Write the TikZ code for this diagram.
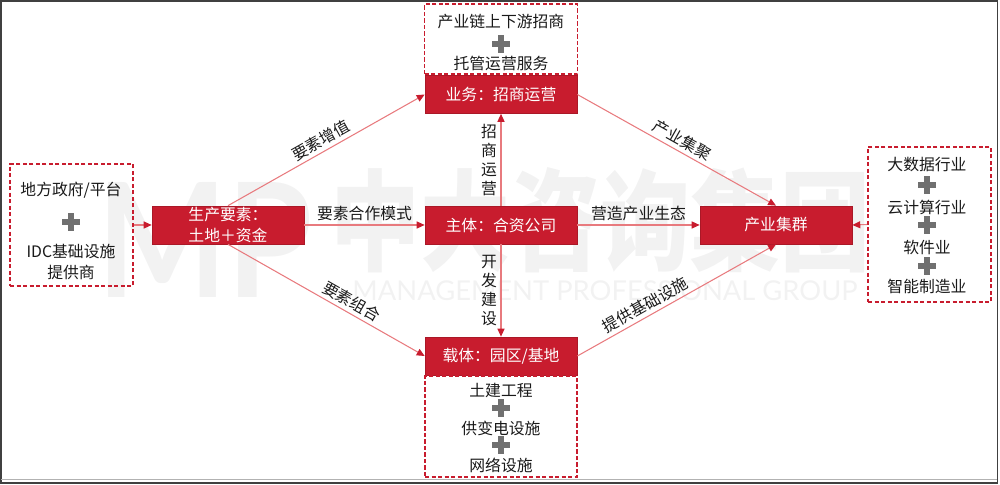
\documentclass[tikz,border=0pt]{standalone}
\usepackage{fontspec}
\usepackage{graphicx}
\setmainfont{Noto Sans CJK SC}
\newfontfamily\wmfont{Lato}
\usetikzlibrary{positioning}
\usetikzlibrary{arrows.meta}
\definecolor{mpred}{RGB}{200,28,46}
\definecolor{linered}{RGB}{232,122,126}
\definecolor{plusgray}{RGB}{112,112,112}
\definecolor{wmgray}{RGB}{242,242,242}
\tikzset{
	red node/.style={fill=mpred,draw=mpred!85!black,line width=0.4pt,text=white,minimum width=3.04cm,
		minimum height=0.76cm,inner sep=0pt,align=center,font=\fontsize{9}{11.4}\selectfont},
	dash box/.style={draw=mpred,line width=1pt,dash pattern=on 2.4pt off 1.3pt,minimum width=2.46cm,inner sep=0pt},
	item/.style={font=\fontsize{9}{11.4}\selectfont,text=black!90,inner sep=1pt,align=center},
	flow label/.style={font=\fontsize{9}{10.8}\selectfont,text=black!90,inner sep=2pt,align=center},
	plusmark/.pic={
		\fill[plusgray] (-0.18,-0.055) rectangle (0.18,0.055);
		\fill[plusgray] (-0.055,-0.175) rectangle (0.055,0.175);
	}
}

\begin{document}
\begin{tikzpicture}[>={Triangle[length=4.5pt,width=4pt,color=mpred]},
		flow/.style={->,draw=linered,line width=0.6pt}]
	\useasboundingbox (0,0) rectangle (20,9.7);
	% watermark
	\node[text=wmgray,inner sep=0pt] (wmlogo) at (4.1,4.9) {\resizebox{4.3cm}{2.3cm}{\wmfont\bfseries MP}};
	\node[text=wmgray,inner sep=0pt] (wmname) at (12.0,5.3) {\resizebox{10.8cm}{1.9cm}{\bfseries 中大咨询集团}};
	\node[text=wmgray,inner sep=0pt] (wmtag) at (12.1,3.88) {\resizebox{10.1cm}{!}{\wmfont MANAGEMENT PROFESSIONAL GROUP}};
	\node[red node] (prod) at (4.56,5.2) {生产要素：\\土地＋资金};
	\node[red node] (host) at (10.02,5.2) {主体：合资公司};
	\node[red node] (biz) at (10.02,7.81) {业务：招商运营};
	\node[red node] (carr) at (10.02,2.58) {载体：园区/基地};
	\node[red node] (clus) at (15.52,5.2) {产业集群};
	\node[dash box,minimum width=3.06cm,minimum height=1.4cm,above=0pt of biz] (bizbox) {};
	\node[dash box,minimum width=3.04cm,minimum height=2.02cm,below=0pt of carr] (carrbox) {};
	\node[dash box,minimum height=2.44cm] (govbox) at (1.43,5.2) {};
	\node[dash box,minimum height=3.1cm] (indbox) at (18.59,5.21) {};
	% box contents
	\node[item] (gov) at (1.42,5.9) {地方政府/平台};
	\pic at (1.42,5.26) {plusmark};
	\node[item] (idc) at (1.42,4.46) {IDC基础设施\\提供商};
	\node[item] (chain) at (10.02,9.26) {产业链上下游招商};
	\pic at (10.02,8.82) {plusmark};
	\node[item] (trust) at (10.02,8.44) {托管运营服务};
	\node[item] (bigdata) at (18.54,6.4) {大数据行业};
	\pic at (18.54,6.0) {plusmark};
	\node[item] (cloud) at (18.54,5.56) {云计算行业};
	\pic at (18.54,5.2) {plusmark};
	\node[item] (soft) at (18.54,4.76) {软件业};
	\pic at (18.54,4.38) {plusmark};
	\node[item] (manu) at (18.54,3.98) {智能制造业};
	\node[item] (civil) at (10.02,1.9) {土建工程};
	\pic at (10.02,1.54) {plusmark};
	\node[item] (power) at (10.02,1.14) {供变电设施};
	\pic at (10.02,0.8) {plusmark};
	\node[item] (net) at (10.02,0.4) {网络设施};
	% connectors
	\draw[flow] (govbox.east) -- (prod.west);
	\draw[flow] (prod.north) -- (biz.west) node[flow label,midway,sloped,above] {要素增值};
	\draw[flow] (prod.east) -- (host.west) node[flow label,midway,above] {要素合作模式};
	\draw[flow] (prod.south) -- (carr.west) node[flow label,pos=0.6,sloped,above] {要素组合};
	\draw[flow] (host.north) -- (biz.south) node[flow label,midway,left] {招\\商\\运\\营};
	\draw[flow] (host.south) -- (carr.north) node[flow label,midway,left] {开\\发\\建\\设};
	\draw[flow] (host.east) -- (clus.west) node[flow label,midway,above] {营造产业生态};
	\draw[flow] (biz.east) -- (clus.north) node[flow label,midway,sloped,above] {产业集聚};
	\draw[flow] (carr.east) -- (clus.south) node[flow label,pos=0.37,sloped,above] {提供基础设施};
	\draw[flow] (indbox.west) -- (clus.east);
	% frame
	\draw[black!75,line width=1.1pt] (0.02,0.04) rectangle (19.95,9.68);
	\draw[black!30,line width=0.6pt] (0.03,0.11) -- (19.94,0.11);
\end{tikzpicture}
\end{document}
